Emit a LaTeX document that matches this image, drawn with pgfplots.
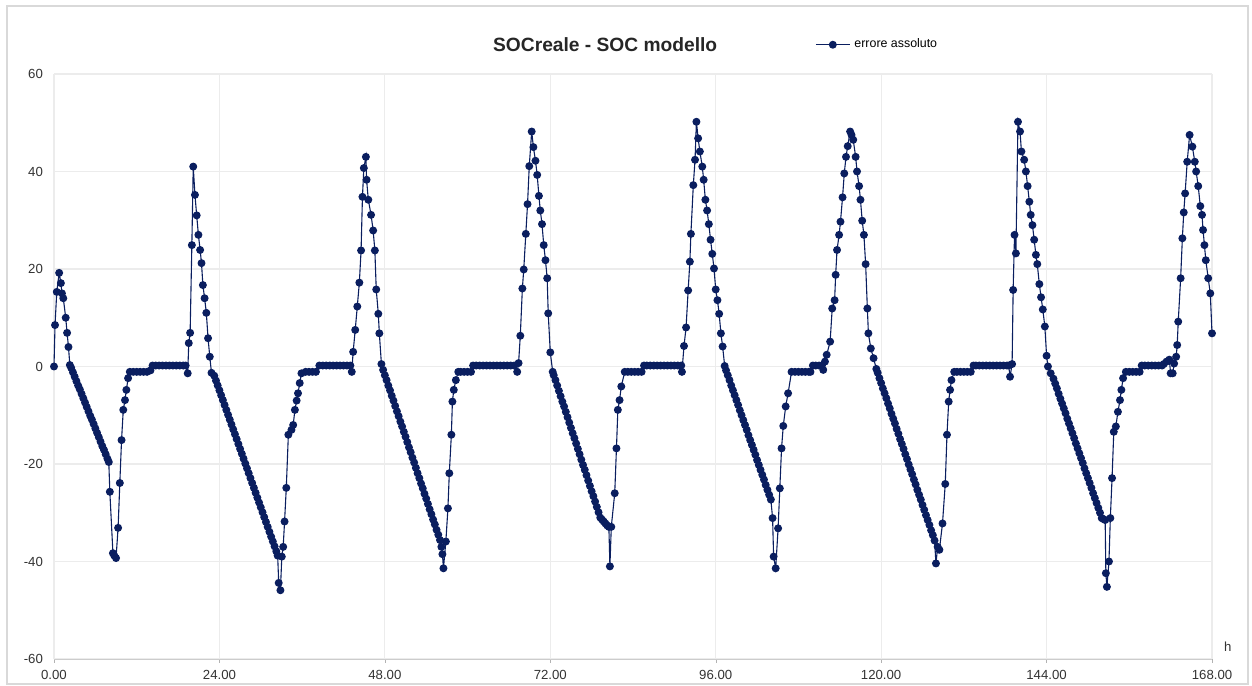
\documentclass[border=0pt]{standalone}
\usepackage{fontspec}
\setmainfont{Liberation Sans}
\usepackage{pgfplots}
\pgfplotsset{compat=1.18}
\definecolor{navy}{RGB}{10,30,95}
\definecolor{gridc}{RGB}{236,236,236}

\begin{document}
\begin{tikzpicture}
\begin{axis}[
    name=ax,
    scale only axis,
    width=579pt, height=292.5pt,
    xmin=0, xmax=168,
    ymin=-60, ymax=60,
    xtick={0,24,...,168},
    ytick={-60,-40,...,60},
    xticklabel style={/pgf/number format/.cd,fixed,fixed zerofill,precision=2},
    /pgf/number format/assume math mode=true,
    ticklabel style={font=\fontsize{6.6}{7}\selectfont, text=black!80},
    axis x line*=bottom,
    axis y line*=left,
    x axis line style={draw=black!20, -},
    y axis line style={draw=none},
    xtick style={draw=black!30},
    ytick style={draw=none},
    major tick length=2pt,
    tick align=outside,
    grid=major,
    grid style={draw=gridc, line width=0.6pt},
    title={\textbf{SOCreale - SOC modello}},
    title style={at={(0.476,1.03)}, anchor=center, font=\fontsize{9.6}{11}\selectfont, text=black!85},
    legend style={at={(0.657,1.05)}, anchor=west, draw=none, fill=none,
        font=\fontsize{6.2}{7}\selectfont, inner sep=0pt},
    legend cell align=left,
    clip=false,
]
\addplot[color=navy, line width=0.55pt, mark=*, mark size=1.7pt, mark options={fill=navy, draw=navy}]
coordinates {
(0,0)(0.15,8.5)(0.4,15.3)(0.75,19.2)(1.0,17.1)(1.15,15.0)(1.35,14.0)(1.7,10.0)(1.9,6.9)(2.1,4.0)(2.3,0.3)
(2.5,-0.3)(2.75,-1.2)(3.0,-2.1)(3.25,-3.0)(3.5,-3.9)(3.75,-4.7)(4.0,-5.6)(4.25,-6.5)(4.5,-7.4)(4.75,-8.3)
(5.0,-9.2)(5.25,-10.1)(5.5,-10.9)(5.75,-11.8)(6.0,-12.7)(6.25,-13.6)(6.5,-14.5)(6.75,-15.4)(7.0,-16.3)
(7.25,-17.1)(7.5,-18.0)(7.75,-18.9)(7.95,-19.6)(8.1,-25.7)(8.55,-38.3)(8.75,-38.8)(9.0,-39.3)(9.3,-33.1)
(9.55,-23.9)(9.8,-15.1)(10.05,-8.9)(10.3,-6.9)(10.5,-4.8)(10.75,-2.4)(11.0,-1.1)
(11.5,-1.1)(12.0,-1.1)(12.5,-1.1)(13.0,-1.1)(13.5,-1.1)(14.0,-0.8)(14.3,0.2)(14.75,0.2)(15.25,0.2)(15.75,0.2)
(16.25,0.2)(16.75,0.2)(17.25,0.2)(17.75,0.2)(18.25,0.2)(18.75,0.2)(19.1,0.2)(19.4,-1.4)
(19.55,4.8)(19.75,6.9)(20.0,24.9)(20.2,41.0)(20.45,35.2)(20.7,31.0)(20.95,27.0)(21.2,23.9)(21.4,21.2)
(21.6,16.7)(21.85,14.0)(22.1,11.0)(22.35,5.8)(22.6,2.0)(22.85,-1.3)
(23.25,-1.9)(23.5,-2.9)(23.75,-3.9)(24.0,-4.9)(24.25,-5.9)(24.5,-6.9)(24.75,-7.9)(25.0,-8.9)(25.25,-9.9)
(25.5,-10.9)(25.75,-11.9)(26.0,-12.9)(26.25,-13.9)(26.5,-14.9)(26.75,-15.9)(27.0,-16.9)(27.25,-17.9)
(27.5,-18.9)(27.75,-19.9)(28.0,-20.9)(28.25,-21.9)(28.5,-22.9)(28.75,-23.9)(29.0,-24.9)(29.25,-25.9)
(29.5,-26.9)(29.75,-27.9)(30.0,-28.9)(30.25,-29.9)(30.5,-30.9)(30.75,-31.9)(31.0,-32.9)(31.25,-33.9)
(31.5,-34.9)(31.75,-35.9)(32.0,-36.9)(32.25,-37.9)(32.45,-38.8)(32.6,-44.4)(32.85,-45.9)(33.05,-39.0)
(33.25,-37.0)(33.45,-31.8)(33.7,-24.9)(34.0,-14.0)(34.45,-13.0)(34.7,-12.0)(34.95,-8.9)(35.2,-7.0)
(35.4,-5.5)(35.65,-3.4)(35.9,-1.4)
(36.5,-1.1)(37.0,-1.1)(37.5,-1.1)(38.0,-1.1)(38.5,0.2)(39.0,0.2)(39.5,0.2)(40.0,0.2)(40.5,0.2)(41.0,0.2)
(41.5,0.2)(42.0,0.2)(42.5,0.2)(43.0,0.2)(43.2,-1.1)
(43.4,3.0)(43.7,7.5)(44.0,12.3)(44.3,17.2)(44.55,23.8)(44.75,34.8)(44.95,40.7)(45.25,43.0)(45.35,38.3)
(45.6,34.2)(46.0,31.1)(46.3,27.9)(46.55,23.8)(46.75,15.8)(47.05,10.8)(47.2,6.8)(47.5,0.5)
(47.75,-0.7)(48.0,-1.8)(48.25,-2.8)(48.5,-3.9)(48.75,-4.9)(49.0,-6.0)(49.25,-7.0)(49.5,-8.1)(49.75,-9.2)
(50.0,-10.2)(50.25,-11.3)(50.5,-12.3)(50.75,-13.4)(51.0,-14.4)(51.25,-15.5)(51.5,-16.6)(51.75,-17.6)
(52.0,-18.7)(52.25,-19.7)(52.5,-20.8)(52.75,-21.9)(53.0,-22.9)(53.25,-24.0)(53.5,-25.0)(53.75,-26.1)
(54.0,-27.1)(54.25,-28.2)(54.5,-29.3)(54.75,-30.3)(55.0,-31.4)(55.25,-32.4)(55.5,-33.5)(55.75,-34.5)
(56.0,-35.6)(56.2,-37.0)(56.35,-38.5)(56.5,-41.4)(56.85,-35.9)(57.15,-29.1)(57.35,-21.9)(57.65,-14.0)
(57.8,-7.2)(58.0,-4.8)(58.3,-2.8)(58.65,-1.1)
(59.0,-1.1)(59.5,-1.1)(60.0,-1.1)(60.5,-1.1)(60.8,0.2)(61.25,0.2)(61.75,0.2)(62.25,0.2)(62.75,0.2)
(63.25,0.2)(63.75,0.2)(64.25,0.2)(64.75,0.2)(65.25,0.2)(65.75,0.2)(66.25,0.2)(66.75,0.2)(67.2,-1.1)
(67.4,0.7)(67.65,6.3)(67.95,16.0)(68.15,19.9)(68.45,27.2)(68.7,33.3)(68.95,41.1)(69.3,48.2)(69.55,45.0)
(69.85,42.2)(70.1,39.3)(70.35,35.0)(70.55,32.0)(70.8,29.2)(71.05,24.9)(71.3,21.8)(71.55,18.1)(71.7,10.9)
(72.0,2.9)(72.35,-1.1)
(72.5,-1.8)(72.75,-2.8)(73.0,-3.9)(73.25,-5.0)(73.5,-6.1)(73.75,-7.2)(74.0,-8.2)(74.25,-9.3)(74.5,-10.4)
(74.75,-11.5)(75.0,-12.6)(75.25,-13.7)(75.5,-14.7)(75.75,-15.8)(76.0,-16.9)(76.25,-18.0)(76.5,-19.1)
(76.75,-20.2)(77.0,-21.2)(77.25,-22.3)(77.5,-23.4)(77.75,-24.5)(78.0,-25.6)(78.25,-26.6)(78.5,-27.7)
(78.75,-28.8)(79.0,-29.9)(79.25,-31.0)(79.5,-31.4)(79.75,-31.8)(80.0,-32.2)(80.25,-32.6)(80.5,-32.9)
(80.65,-41.0)(80.85,-32.9)(81.35,-26.0)(81.6,-16.8)(81.8,-8.9)(82.05,-6.9)(82.3,-4.1)(82.8,-1.1)
(83.25,-1.1)(83.75,-1.1)(84.25,-1.1)(84.75,-1.1)(85.25,-1.1)(85.6,0.2)(86.0,0.2)(86.5,0.2)(87.0,0.2)
(87.5,0.2)(88.0,0.2)(88.5,0.2)(89.0,0.2)(89.5,0.2)(90.0,0.2)(90.5,0.2)(91.0,0.2)(91.1,-1.1)
(91.4,4.2)(91.7,8.0)(92.0,15.6)(92.25,21.5)(92.4,27.2)(92.75,37.2)(93.0,42.4)(93.2,50.2)(93.45,46.8)
(93.7,44.1)(94.05,41.0)(94.25,38.3)(94.5,34.2)(94.75,32.0)(95.0,29.2)(95.25,26.0)(95.5,23.1)(95.75,20.1)
(96.0,15.8)(96.25,13.6)(96.5,10.8)(96.75,6.8)(97.0,4.1)(97.3,0.1)(97.5,-0.8)
(97.75,-1.8)(98.0,-2.8)(98.25,-3.9)(98.5,-4.9)(98.75,-5.9)(99.0,-6.9)(99.25,-7.9)(99.5,-9.0)(99.75,-10.0)
(100.0,-11.0)(100.25,-12.0)(100.5,-13.0)(100.75,-14.1)(101.0,-15.1)(101.25,-16.1)(101.5,-17.1)
(101.75,-18.1)(102.0,-19.2)(102.25,-20.2)(102.5,-21.2)(102.75,-22.2)(103.0,-23.2)(103.25,-24.3)
(103.5,-25.3)(103.75,-26.3)(104.0,-27.3)(104.25,-31.1)(104.4,-39.0)(104.7,-41.4)(105.05,-33.2)
(105.3,-25.0)(105.55,-16.8)(105.8,-12.2)(106.15,-8.2)(106.5,-5.5)(107.0,-1.1)
(107.5,-1.1)(108.0,-1.1)(108.5,-1.1)(109.0,-1.1)(109.5,-1.1)(109.75,-1.1)(110.1,0.2)(110.5,0.2)(111.0,0.2)
(111.4,0.2)(111.6,-0.7)(111.85,1.0)(112.1,2.4)(112.6,5.1)(112.9,11.9)(113.25,13.6)(113.4,18.8)(113.6,23.9)
(113.9,27.0)(114.1,29.7)(114.4,34.7)(114.65,39.6)(114.9,43.0)(115.15,45.2)(115.5,48.2)(115.7,47.5)
(115.95,46.5)(116.3,43.0)(116.5,40.0)(116.8,37.0)(117.0,34.2)(117.25,29.9)(117.5,27.0)(117.75,21.0)
(118.0,11.9)(118.15,6.8)(118.5,3.7)(118.9,1.7)(119.3,-0.5)
(119.5,-1.3)(119.75,-2.4)(120.0,-3.4)(120.25,-4.5)(120.5,-5.5)(120.75,-6.5)(121.0,-7.6)(121.25,-8.6)
(121.5,-9.7)(121.75,-10.7)(122.0,-11.7)(122.25,-12.8)(122.5,-13.8)(122.75,-14.9)(123.0,-15.9)
(123.25,-16.9)(123.5,-18.0)(123.75,-19.0)(124.0,-20.1)(124.25,-21.1)(124.5,-22.1)(124.75,-23.2)
(125.0,-24.2)(125.25,-25.3)(125.5,-26.3)(125.75,-27.3)(126.0,-28.4)(126.25,-29.4)(126.5,-30.5)
(126.75,-31.5)(127.0,-32.5)(127.25,-33.6)(127.5,-34.6)(127.75,-35.7)(127.95,-40.4)(128.2,-37.0)
(128.45,-37.6)(128.9,-32.2)(129.3,-24.1)(129.55,-14.0)(129.8,-7.2)(130.0,-4.8)(130.2,-2.8)(130.6,-1.1)
(131.0,-1.1)(131.5,-1.1)(132.0,-1.1)(132.5,-1.1)(133.0,-1.1)(133.4,0.2)(133.75,0.2)(134.25,0.2)
(134.75,0.2)(135.25,0.2)(135.75,0.2)(136.25,0.2)(136.75,0.2)(137.25,0.2)(137.75,0.2)(138.25,0.2)
(138.5,0.2)(138.7,-2.1)
(139.0,0.5)(139.15,15.7)(139.35,27.0)(139.55,23.2)(139.85,50.2)(140.15,48.2)(140.35,44.1)(140.75,42.4)
(141.0,40.0)(141.25,37.0)(141.5,33.8)(141.7,31.1)(141.95,29.0)(142.2,26.0)(142.45,22.9)(142.65,21.0)
(142.95,16.9)(143.2,14.2)(143.45,11.7)(143.75,8.2)(144.0,2.2)(144.2,0.0)(144.6,-1.4)
(145.0,-2.5)(145.25,-3.5)(145.5,-4.5)(145.75,-5.6)(146.0,-6.6)(146.25,-7.6)(146.5,-8.6)(146.75,-9.6)
(147.0,-10.7)(147.25,-11.7)(147.5,-12.7)(147.75,-13.7)(148.0,-14.7)(148.25,-15.8)(148.5,-16.8)
(148.75,-17.8)(149.0,-18.8)(149.25,-19.8)(149.5,-20.9)(149.75,-21.9)(150.0,-22.9)(150.25,-23.9)
(150.5,-24.9)(150.75,-26.0)(151.0,-27.0)(151.25,-28.0)(151.5,-29.0)(151.75,-30.0)(152.0,-31.1)
(152.25,-31.3)(152.5,-31.5)(152.6,-42.4)(152.75,-45.2)(153.05,-40.0)(153.25,-31.1)(153.5,-22.9)
(153.75,-13.4)(154.05,-12.3)(154.35,-9.3)(154.65,-6.9)(154.85,-4.8)(155.1,-2.4)(155.5,-1.1)
(156.0,-1.1)(156.5,-1.1)(157.0,-1.1)(157.5,-1.1)(157.8,0.2)(158.25,0.2)(158.75,0.2)(159.25,0.2)
(159.75,0.2)(160.25,0.2)(160.75,0.2)(161.0,0.5)(161.4,1.0)(161.8,1.4)(162.0,-1.4)(162.3,-1.4)(162.5,0.6)
(162.8,2.0)(162.95,4.4)(163.1,9.2)(163.45,18.1)(163.7,26.3)(163.9,31.6)(164.1,35.5)(164.4,42.0)
(164.75,47.5)(165.15,45.1)(165.5,42.0)(165.7,40.0)(166.0,37.0)(166.3,32.9)(166.55,31.1)(166.7,28.0)
(166.9,24.9)(167.1,21.8)(167.45,18.1)(167.75,15.0)(168.0,6.8)
};
\addlegendentry{errore assoluto}
\node[font=\fontsize{6.6}{7}\selectfont, text=black!80] at (axis cs:170.3,-57.5) {h};
\end{axis}
\pgfresetboundingbox
\path[use as bounding box] ([xshift=-27pt, yshift=-13.5pt]ax.south west) rectangle ([xshift=20pt, yshift=37pt]ax.north east);
\draw[black!15, line width=0.6pt] ([xshift=-23.5pt, yshift=-12.5pt]ax.south west) rectangle ([xshift=18pt, yshift=34pt]ax.north east);
\end{tikzpicture}
\end{document}
